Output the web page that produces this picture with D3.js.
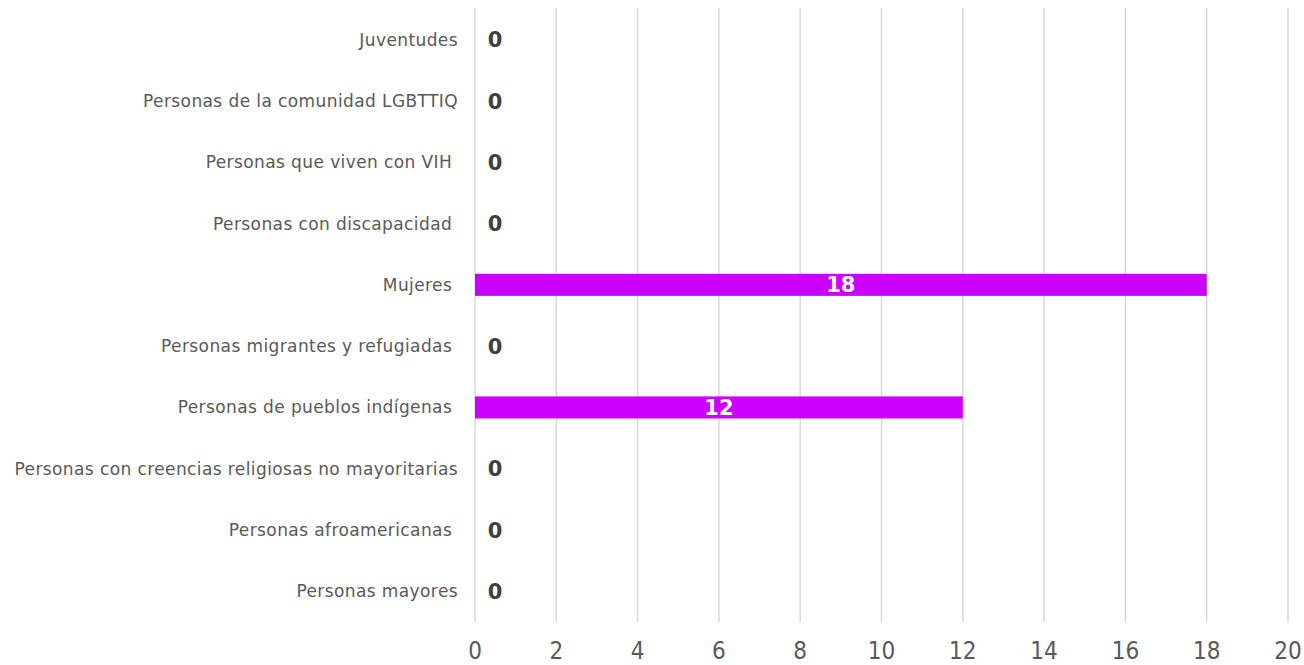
<!DOCTYPE html>
<html><head><meta charset="utf-8">
<script src="https://cdn.jsdelivr.net/npm/d3@7"></script>
<style>body{margin:0;background:#fff}svg{display:block}text{white-space:pre}</style>
</head><body>
<svg id="c" width="1304" height="665"></svg>
<script>
const categories = ["Juventudes","Personas de la comunidad LGBTTIQ","Personas que viven con VIH ","Personas con discapacidad ","Mujeres ","Personas migrantes y refugiadas ","Personas de pueblos indígenas ","Personas con creencias religiosas no mayoritarias","Personas afroamericanas ","Personas mayores"];
const values = [0,0,0,0,18,0,12,0,0,0];
const xTicks = [0,2,4,6,8,10,12,14,16,18,20];

const svg = d3.select("#c");
const font = "'DejaVu Sans', sans-serif";
const x = d3.scaleLinear().domain([0,20]).range([475,1288]);
const y = d3.scaleBand().domain(categories).range([9,622]).paddingInner(0.64).paddingOuter(0.32);

svg.append("g").selectAll("line").data(xTicks).join("line")
  .attr("x1",d=>x(d)).attr("x2",d=>x(d)).attr("y1",8).attr("y2",622)
  .attr("stroke","#d9d9d9").attr("stroke-width",1.5);

svg.append("g").selectAll("text").data(xTicks).join("text")
  .attr("x",d=>x(d)).attr("y",659).attr("text-anchor","middle")
  .attr("font-family","'Liberation Sans Narrow', 'DejaVu Sans Condensed', sans-serif").attr("font-size",24).attr("fill","#595959")
  .text(d=>d);

svg.append("g").selectAll("text").data(categories).join("text")
  .attr("x",458).attr("y",d=>y(d)+y.bandwidth()/2).attr("dy","0.35em").attr("text-anchor","end")
  .attr("font-family",font).attr("font-size",17).attr("letter-spacing","0.4px").attr("fill","#595959")
  .text(d=>d);

const data = categories.map((c,i)=>({c,v:values[i]}));
svg.append("g").selectAll("rect").data(data.filter(d=>d.v>0)).join("rect")
  .attr("x",x(0)).attr("y",d=>y(d.c)).attr("width",d=>x(d.v)-x(0)).attr("height",y.bandwidth())
  .attr("fill","#cc00ff");

svg.append("g").selectAll("text").data(data).join("text")
  .attr("x",d=>d.v>0 ? (x(0)+x(d.v))/2 : x(0)+20)
  .attr("y",d=>y(d.c)+y.bandwidth()/2).attr("dy","0.36em").attr("text-anchor","middle")
  .attr("font-family",font).attr("font-size",21).attr("font-weight","bold")
  .attr("fill",d=>d.v>0?"#ffffff":"#404040")
  .text(d=>d.v);
</script>
</body></html>
